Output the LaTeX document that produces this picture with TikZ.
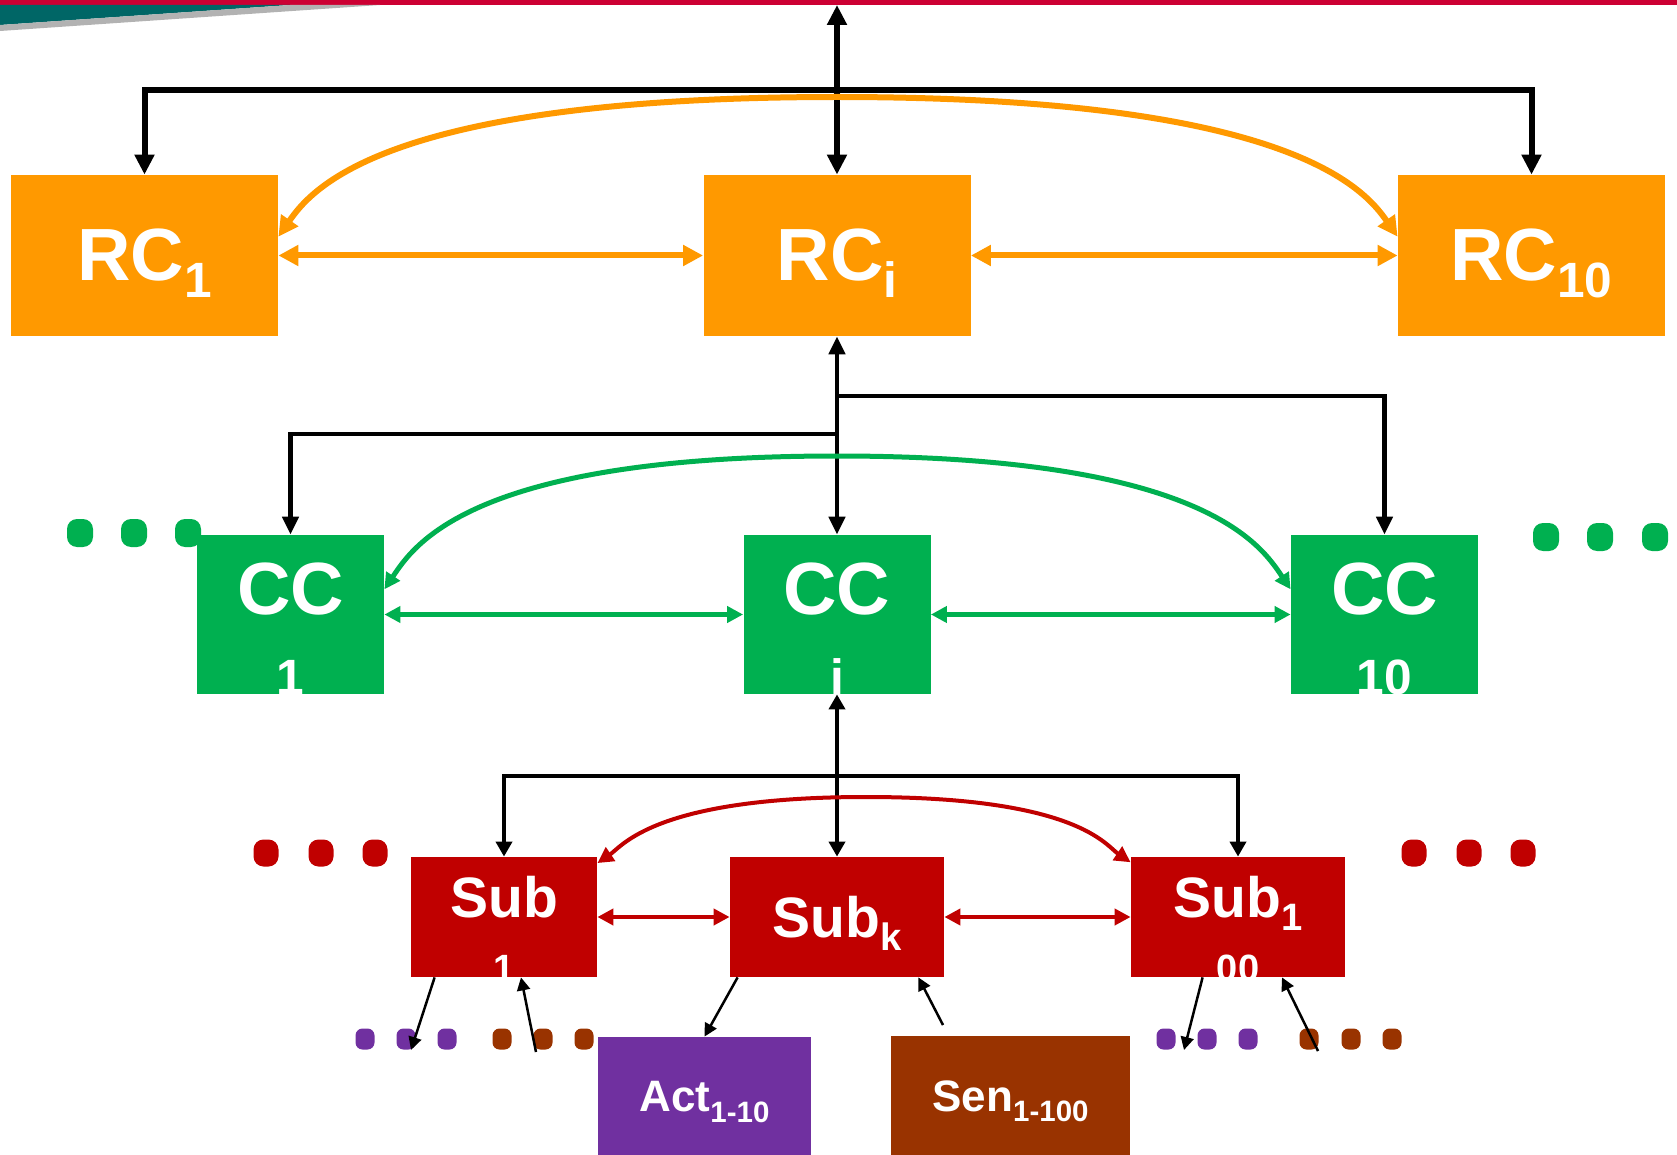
\documentclass[tikz,border=0pt]{standalone}
\usepackage{fontspec}
\setmainfont{Liberation Sans}
\usepackage{graphicx}
\usetikzlibrary{arrows.meta}
\definecolor{rcorange}{HTML}{FF9900}
\definecolor{ccgreen}{HTML}{00B050}
\definecolor{subred}{HTML}{C00000}
\definecolor{actpurple}{HTML}{7030A0}
\definecolor{senbrown}{HTML}{993300}
\definecolor{bandred}{HTML}{CC0033}
\definecolor{bandteal}{HTML}{006666}
\definecolor{bandgrey}{HTML}{B2B2B2}
\newcommand{\idx}[1]{\raisebox{-.23em}[0pt][0pt]{\scalebox{.67}{#1}}}

\begin{document}
\begin{tikzpicture}[x=0.5pt, y=-0.5pt,
		box/.style={inner sep=0pt, text=white},
		rcbox/.style={box, fill=rcorange, minimum width=133.5pt, minimum height=80.5pt, font=\fontsize{37}{44}\selectfont\bfseries},
		ccbox/.style={box, fill=ccgreen, minimum width=93.5pt, minimum height=79.5pt},
		subbox/.style={box, fill=subred, minimum width=107pt, minimum height=60pt, font=\fontsize{28.5}{34}\selectfont\bfseries},
		devbox/.style={box, minimum height=60pt, font=\fontsize{22}{26}\selectfont\bfseries},
		cctext/.style={box, anchor=base, font=\fontsize{37}{44}\selectfont\bfseries},
		ccnum/.style={box, anchor=base, font=\fontsize{24.8}{30}\selectfont\bfseries},
		subtext/.style={box, anchor=base, font=\fontsize{28.5}{34}\selectfont\bfseries},
		subnum/.style={box, anchor=base, font=\fontsize{19}{23}\selectfont\bfseries},
		gdot/.style={fill=ccgreen, inner sep=0pt, minimum width=13pt, minimum height=14pt, rounded corners=5pt},
		rdot/.style={fill=subred, inner sep=0pt, minimum width=12.5pt, minimum height=13.5pt, rounded corners=5pt},
		pdot/.style={fill=actpurple, inner sep=0pt, minimum width=9.5pt, minimum height=10.5pt, rounded corners=3.5pt},
		bdot/.style={fill=senbrown, inner sep=0pt, minimum width=9.5pt, minimum height=10.5pt, rounded corners=3.5pt},
		topwire/.style={line width=3pt, >={Triangle[length=10pt, width=9.5pt]}},
		midwire/.style={line width=2.25pt, >={Triangle[length=9pt, width=8pt]}},
		lowwire/.style={line width=2pt, >={Triangle[length=7.5pt, width=8pt]}},
		devwire/.style={line width=1.25pt, >={Triangle[length=6.5pt, width=6.5pt]}},
		orwire/.style={rcorange, line width=3pt, >={Triangle[length=10pt, width=10pt]}},
		grwire/.style={ccgreen, line width=2.5pt, >={Triangle[length=8pt, width=8pt]}},
		rdwire/.style={subred, line width=2pt, >={Triangle[length=8pt, width=8pt]}}]
	\useasboundingbox (0,0) rectangle (1677,1155);

	% slide band
	\fill[bandred] (0,0) rectangle (1677,5);
	\fill[bandteal] (0,5) -- (290,5) -- (0,25) -- cycle;
	\fill[bandgrey] (0,25) -- (290,5) -- (380,5) -- (0,31) -- cycle;

	% more of the same on each level
	\foreach \x [count=\i] in {80,134,188} \node[gdot] (gl\i) at (\x,533) {};
	\foreach \x [count=\i] in {1546,1600,1655} \node[gdot] (gr\i) at (\x,537) {};
	\foreach \x [count=\i] in {266,321,375} \node[rdot] (rl\i) at (\x,853) {};
	\foreach \x [count=\i] in {1414,1469,1523} \node[rdot] (rr\i) at (\x,853) {};
	\foreach \x [count=\i] in {365,406,447} \node[pdot] (pl\i) at (\x,1039) {};
	\foreach \x [count=\i] in {502,543,584} \node[bdot] (bl\i) at (\x,1039) {};
	\foreach \x [count=\i] in {1166,1207,1248} \node[pdot] (pr\i) at (\x,1039) {};
	\foreach \x [count=\i] in {1309,1351,1392} \node[bdot] (br\i) at (\x,1039) {};

	\node[rcbox] (rc1) at (144.5,255.5) {RC\idx{1}};
	\node[rcbox] (rci) at (837,255.5) {RC\idx{i}};
	\node[rcbox] (rc10) at (1531.5,255.5) {RC\idx{10}};

	\node[ccbox] (cc1) at (290.5,614.5) {};
	\node[ccbox] (cci) at (837,614.5) {};
	\node[ccbox] (cc10) at (1384.5,614.5) {};
	\node[cctext] (cc1t) at (cc1.center) {CC};
	\node[cctext] (ccit) at (cci.center) {CC};
	\node[cctext] (cc10t) at (cc10.center) {CC};
	\node[ccnum] (cc1n) at (cc1.south) {1};
	\node[ccnum] (ccin) at (cci.south) {i};
	\node[ccnum] (cc10n) at (cc10.south) {10};

	\node[subbox, minimum width=93pt] (sub1) at (504,917) {};
	\node[subbox] (subk) at (837,917) {Sub\idx{k}};
	\node[subbox] (sub100) at (1238,917) {};
	\node[subtext] (sub1t) at (sub1.center) {Sub};
	\node[subnum] (sub1n) at ([yshift=-2pt]sub1.south) {1};
	\node[subtext] (sub100t) at (sub100.center) {Sub\idx{1}};
	\node[subnum] (sub100n) at ([yshift=-2pt]sub100.south) {00};

	\node[devbox, fill=actpurple, minimum width=106.5pt] (act) at (704.5,1097) {Act\idx{1-10}};
	\node[devbox, fill=senbrown, minimum width=119.5pt] (sen) at (1010.5,1096) {Sen\idx{1-100}};

	\coordinate (top) at (837,5);
	\coordinate (rcbus) at (837,90);
	\coordinate (ccbusL) at (837,434);
	\coordinate (ccbusR) at (837,396);
	\coordinate (subbus) at (837,776);
	\coordinate (orpeak) at (837,97);
	\coordinate (grpeak) at (837,456);
	\coordinate (rdpeak) at (866,797);
	\coordinate (sub1out) at (411,1050);
	\coordinate (sub1in) at (536,1052);
	\coordinate (senout) at (943,1025);
	\coordinate (sub100out) at (1184,1050);
	\coordinate (sub100in) at (1318,1051);

	\draw[topwire, <->] (rci.north) -- (top);
	\draw[topwire, ->] (rcbus) -| (rc1.north);
	\draw[topwire, ->] (rcbus) -| (rc10.north);

	\draw[midwire, <->] (rci.south) -- (cci.north);
	\draw[midwire, ->] (ccbusL) -| (cc1.north);
	\draw[midwire, ->] (ccbusR) -| (cc10.north);

	\draw[lowwire, <->] (cci.south) -- (subk.north);
	\draw[lowwire, ->] (subbus) -| (sub1.north);
	\draw[lowwire, ->] (subbus) -| (sub100.north);

	\draw[orwire, <->] (rc1.east) -- (rci.west);
	\draw[orwire, <->] (rci.east) -- (rc10.west);
	\draw[orwire, <->] (rc1.8) .. controls +(34,-49) and +(-450,0) .. (orpeak) .. controls +(450,0) and +(-34,-49) .. (rc10.172);

	\draw[grwire, <->] (cc1.east) -- (cci.west);
	\draw[grwire, <->] (cci.east) -- (cc10.west);
	\draw[grwire, <->] (cc1.15) .. controls +(30,-45) and +(-365,0) .. (grpeak) .. controls +(365,0) and +(-30,-45) .. (cc10.165);

	\draw[rdwire, <->] (sub1.east) -- (subk.west);
	\draw[rdwire, <->] (subk.east) -- (sub100.west);
	\draw[rdwire, <->] (sub1.30) .. controls +(25,-17) and +(-211,0) .. (rdpeak) .. controls +(211,0) and +(-25,-17) .. (sub100.153);

	\draw[devwire, ->] ([xshift=12pt]sub1.south west) -- (sub1out);
	\draw[devwire, ->] (sub1in) -- ([xshift=8.5pt]sub1.south);
	\draw[devwire, ->] ([xshift=4pt]subk.south west) -- (act.north);
	\draw[devwire, ->] (senout) -- ([xshift=-13pt]subk.south east);
	\draw[devwire, ->] ([xshift=36pt]sub100.south west) -- (sub100out);
	\draw[devwire, ->] (sub100in) -- ([xshift=22pt]sub100.south);
\end{tikzpicture}
\end{document}
